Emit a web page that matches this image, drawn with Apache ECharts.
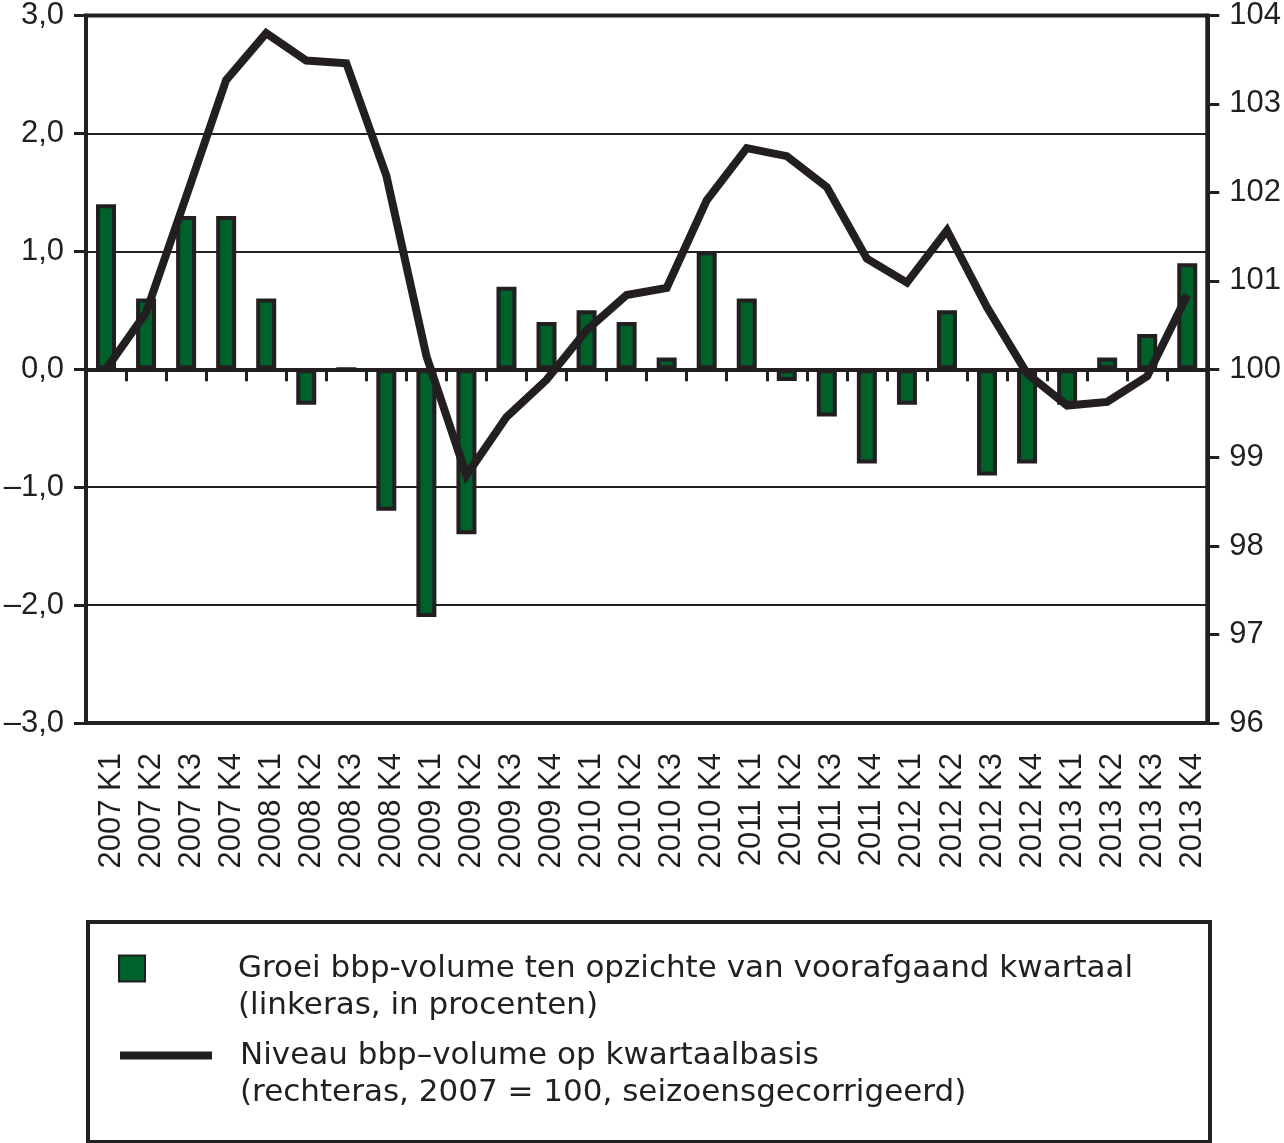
<!DOCTYPE html>
<html>
<head>
<meta charset="utf-8">
<script src="https://cdn.jsdelivr.net/npm/echarts@6/dist/echarts.min.js"></script>
<style>
html,body{margin:0;padding:0;background:#fff;}
#chart{width:1284px;height:1143px;}
</style>
</head>
<body>
<div id="chart"></div>
<script>
const categories = ['2007 K1','2007 K2','2007 K3','2007 K4','2008 K1','2008 K2','2008 K3','2008 K4',
  '2009 K1','2009 K2','2009 K3','2009 K4','2010 K1','2010 K2','2010 K3','2010 K4',
  '2011 K1','2011 K2','2011 K3','2011 K4','2012 K1','2012 K2','2012 K3','2012 K4',
  '2013 K1','2013 K2','2013 K3','2013 K4'];
const growth = [1.4, 0.6, 1.3, 1.3, 0.6, -0.3, 0.0, -1.2,
  -2.1, -1.4, 0.7, 0.4, 0.5, 0.4, 0.1, 1.0,
  0.6, -0.1, -0.4, -0.8, -0.3, 0.5, -0.9, -0.8,
  -0.3, 0.1, 0.3, 0.9];
const level = [100.0, 100.64, 101.95, 103.27, 103.8, 103.49, 103.46, 102.19,
  100.15, 98.8, 99.46, 99.88, 100.44, 100.84, 100.92, 101.91,
  102.5, 102.41, 102.06, 101.25, 100.98, 101.57, 100.7, 99.95,
  99.59, 99.63, 99.92, 100.84];
const leftTicks = {min: -3, max: 3, interval: 1};
const rightTicks = {min: 96, max: 104, interval: 1};
const barName = 'Groei bbp-volume ten opzichte van voorafgaand kwartaal\n(linkeras, in procenten)';
const lineName = 'Niveau bbp\u2013volume op kwartaalbasis\n(rechteras, 2007 = 100, seizoensgecorrigeerd)';

const INK = '#231f20';
const GREEN = '#00602a';
const AX_FONT = 'Liberation Sans';

const chart = echarts.init(document.getElementById('chart'), null, {renderer: 'canvas'});

function fmtLeft(v) {
  const s = Math.abs(v).toFixed(1).replace('.', ',');
  return (v < 0 ? '\u2013' : '') + s;
}

const option = {
  backgroundColor: '#fff',
  animation: false,
  grid: {
    left: 86, right: 76, top: 15, bottom: 420,
    show: true, borderColor: INK, borderWidth: 4, backgroundColor: 'transparent'
  },
  graphic: [{
    type: 'rect', left: 86, top: 920, z: 0,
    shape: {width: 1122, height: 220},
    style: {fill: '#fff', stroke: INK, lineWidth: 4}
  }],
  legend: [{
    data: [{name: barName, icon: 'rect'}],
    left: 118, top: 913, padding: 0,
    itemWidth: 26, itemHeight: 26, selectedMode: false,
    formatter: function (n) { return '\n' + n; },
    textStyle: {fontFamily: 'DejaVu Sans', fontSize: 31, color: INK, lineHeight: 37, padding: [0, 0, 0, 88]}
  }, {
    data: [{name: lineName, icon: 'rect', itemStyle: {color: INK, borderWidth: 0}}],
    left: 120, top: 1000, padding: 0,
    itemWidth: 92, itemHeight: 8, selectedMode: false,
    formatter: function (n) { return '\n' + n; },
    textStyle: {fontFamily: 'DejaVu Sans', fontSize: 31, color: INK, lineHeight: 37, padding: [0, 0, 0, 23]}
  }],
  xAxis: [{
    type: 'category', data: categories, position: 'bottom',
    boundaryGap: true,
    axisLine: {show: true, onZero: true, onZeroAxisIndex: 0, lineStyle: {color: INK, width: 4}},
    axisTick: {show: true, interval: 0, length: 12, lineStyle: {color: INK, width: 3}},
    axisLabel: {show: false},
    splitLine: {show: false}
  }, {
    type: 'category', data: categories, position: 'bottom',
    boundaryGap: true,
    axisLine: {show: true, onZero: false, lineStyle: {color: INK, width: 4}},
    axisTick: {show: false},
    axisLabel: {show: true, interval: 0, rotate: 90, margin: 30, fontFamily: AX_FONT, fontSize: 31, color: INK,
      verticalAlign: 'top', lineHeight: 10},
    splitLine: {show: false}
  }],
  yAxis: [{
    type: 'value', position: 'left',
    min: leftTicks.min, max: leftTicks.max, interval: leftTicks.interval,
    axisLine: {show: true, lineStyle: {color: INK, width: 4}},
    axisTick: {show: true, length: 12, lineStyle: {color: INK, width: 3}},
    axisLabel: {formatter: fmtLeft, margin: 22, fontFamily: AX_FONT, fontSize: 31, color: INK},
    splitLine: {show: true, lineStyle: {color: INK, width: 2}}
  }, {
    type: 'value', position: 'right',
    min: rightTicks.min, max: rightTicks.max, interval: rightTicks.interval,
    axisLine: {show: true, lineStyle: {color: INK, width: 4}},
    axisTick: {show: true, length: 12, lineStyle: {color: INK, width: 3}},
    axisLabel: {margin: 22, fontFamily: AX_FONT, fontSize: 31, color: INK},
    splitLine: {show: false}
  }],
  series: [{
    name: barName, type: 'bar', xAxisIndex: 0, yAxisIndex: 0,
    data: growth, barWidth: 20,
    itemStyle: {color: GREEN, borderColor: INK, borderWidth: 4},
    z: 2
  }, {
    name: lineName, type: 'line', xAxisIndex: 0, yAxisIndex: 1,
    data: level, symbol: 'none', smooth: false,
    lineStyle: {color: INK, width: 8, join: 'miter', cap: 'butt'},
    itemStyle: {color: INK},
    z: 5
  }]
};
chart.setOption(option);
</script>
</body>
</html>
